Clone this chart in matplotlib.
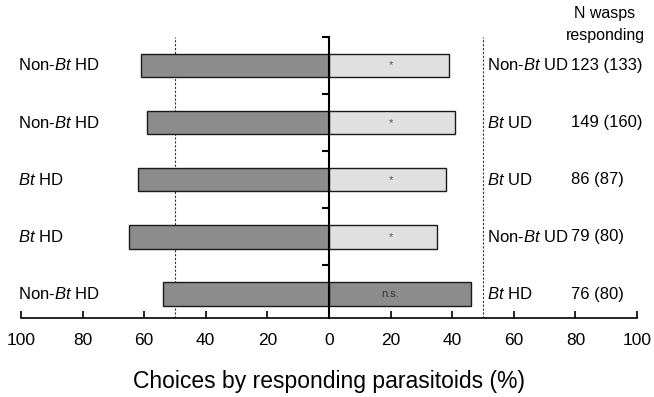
import numpy as np
import matplotlib
matplotlib.use('Agg')
import matplotlib.pyplot as plt

plt.rcParams['font.family'] = ['Liberation Sans', 'DejaVu Sans']
plt.rcParams['mathtext.fontset'] = 'custom'
plt.rcParams['mathtext.rm'] = 'Liberation Sans'
plt.rcParams['mathtext.it'] = 'Liberation Sans:italic'

###### DATA ##########
# rows listed top to bottom
left_labels  = [r'Non-$\it{Bt}$ HD', r'Non-$\it{Bt}$ HD', r'$\it{Bt}$ HD', r'$\it{Bt}$ HD', r'Non-$\it{Bt}$ HD']
right_labels = [r'Non-$\it{Bt}$ UD', r'$\it{Bt}$ UD', r'$\it{Bt}$ UD', r'Non-$\it{Bt}$ UD', r'$\it{Bt}$ HD']
n_labels     = ['123 (133)', '149 (160)', '86 (87)', '79 (80)', '76 (80)']
left_pct     = [61, 59, 62, 65, 54]
right_pct    = [39, 41, 38, 35, 46]
signif       = ['*', '*', '*', '*', 'n.s.']
right_colors = ['#e0e0e0', '#e0e0e0', '#e0e0e0', '#e0e0e0', '#8c8c8c']
xticks       = [-100, -80, -60, -40, -20, 0, 20, 40, 60, 80, 100]
xticklabels  = ['100', '80', '60', '40', '20', '0', '20', '40', '60', '80', '100']
########################

fig = plt.figure(figsize=(6.54, 3.97), dpi=100)
ax = fig.add_axes([0.032, 0.199, 0.942, 0.708])

n = len(left_pct)
y = np.arange(n)[::-1]

ax.barh(y, -np.array(left_pct), height=0.41, color='#8c8c8c', edgecolor='#1a1a1a', lw=1, zorder=2)
ax.barh(y, right_pct, height=0.41, color=right_colors, edgecolor='#1a1a1a', lw=1, zorder=2)

ax.axvline(-50, color='#333333', lw=0.8, ls=(0, (2, 1.5)), zorder=1)
ax.axvline(50, color='#333333', lw=0.8, ls=(0, (2, 1.5)), zorder=1)

for i in range(n):
    ax.text(-101, y[i], left_labels[i], ha='left', va='center', fontsize=12)
    ax.text(51.3, y[i], right_labels[i], ha='left', va='center', fontsize=12)
    ax.text(78.6, y[i], n_labels[i], ha='left', va='center', fontsize=12)
    if signif[i] == '*':
        ax.text(20, y[i], '*', ha='center', va='center', fontsize=8, color='#555555')
    else:
        ax.text(20, y[i], signif[i], ha='center', va='center', fontsize=8, color='#333333')

fig.text(0.925, 0.938, 'N wasps\nresponding', ha='center', va='center', fontsize=11.5, linespacing=1.6)

ax.set_xlim(-100, 100)
ax.set_ylim(-0.42, 4.5)
ax.set_xticks(xticks)
ax.set_xticklabels(xticklabels, fontsize=12.5)
ax.set_yticks([0.5, 1.5, 2.5, 3.5, 4.5])
ax.set_yticklabels([])
ax.tick_params(axis='x', direction='in', length=5, width=1.2, pad=10.5)
ax.tick_params(axis='y', direction='out', length=5, width=1.5)

ax.spines['top'].set_visible(False)
ax.spines['right'].set_visible(False)
ax.spines['left'].set_position(('data', 0))
ax.spines['left'].set_linewidth(1.5)
ax.spines['left'].set_zorder(3)
ax.spines['bottom'].set_linewidth(1.2)

ax.set_xlabel('Choices by responding parasitoids (%)', fontsize=16.5, labelpad=16)

fig.savefig('out.png', dpi=100)
